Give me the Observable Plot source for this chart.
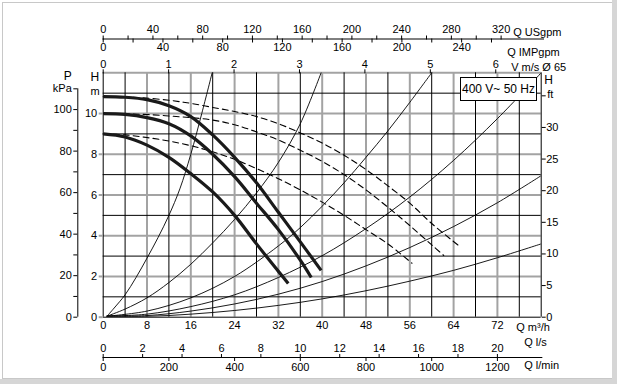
<!DOCTYPE html>
<html><head><meta charset="utf-8">
<script src="https://cdn.jsdelivr.net/npm/d3@7"></script>
<script src="https://cdn.jsdelivr.net/npm/@observablehq/plot@0.6"></script>
<style>
html,body{margin:0;padding:0;background:#fff;}
#wrap{position:relative;width:617px;height:384px;overflow:hidden;font-family:"Liberation Sans",Arial,sans-serif;}
#chart{position:absolute;left:0;top:0;}
#legend{position:absolute;left:460px;top:77px;width:77px;height:24px;box-sizing:border-box;border:1px solid #000;background:#fff;font-size:12px;line-height:22px;text-align:center;color:#000;white-space:nowrap;}
#border{position:absolute;left:2px;top:2px;width:609px;height:375px;border:1px solid #c8c8c8;}
#bandR{position:absolute;left:612px;top:0;width:5px;height:384px;background:#d6d6d6;}
#bandB{position:absolute;left:0;top:379px;width:617px;height:5px;background:#d6d6d6;}
</style></head>
<body><div id="wrap"><div id="border"></div><div id="bandR"></div><div id="bandB"></div><div id="chart"></div><div id="legend">400 V~ 50 Hz</div></div>
<script>
// ---- tick values ----
const qTicks = [0, 8, 16, 24, 32, 40, 48, 56, 64, 72];          // Q m3/h
const hTicks = [0, 2, 4, 6, 8, 10];                              // H m
const pTicks = [0, 10, 20, 30, 40, 50, 60, 70, 80, 90, 100, 110]; // P kPa
const ftTicks = [0, 5, 10, 15, 20, 25, 30, 35];                  // H ft
const usTicks = [0, 20, 40, 60, 80, 100, 120, 140, 160, 180, 200, 220, 240, 260, 280, 300, 320]; // USgpm
const impTicks = [0, 20, 40, 60, 80, 100, 120, 140, 160, 180, 200, 220, 240, 260]; // IMPgpm
const vTicks = [0, 1, 2, 3, 4, 5, 6];                            // V m/s
const lsTicks = [0, 2, 4, 6, 8, 10, 12, 14, 16, 18, 20];         // l/s
const lminTicks = [0, 200, 400, 600, 800, 1000, 1200];           // l/min

// ---- pump curves (thick) ----
const pumpQ1 = [0, 4, 8, 12, 16, 20, 24, 28, 32, 36, 39.8];
const pumpH1 = [10.83, 10.8, 10.68, 10.38, 9.85, 8.95, 7.85, 6.6, 5.15, 3.7, 2.3];
const pumpQ2 = [0, 4, 8, 12, 16, 20, 24, 28, 32, 36, 38];
const pumpH2 = [10.0, 9.96, 9.8, 9.5, 8.9, 8.0, 6.9, 5.6, 4.3, 2.8, 1.95];
const pumpQ3 = [0, 4, 8, 12, 16, 20, 24, 28, 32, 33.8];
const pumpH3 = [9.0, 8.85, 8.45, 7.85, 7.05, 6.15, 5.0, 3.6, 2.25, 1.65];

// ---- dashed curves ----
const dashQ1 = [0, 4, 7, 12, 16, 20, 24, 28, 32, 36, 40, 44, 48, 52, 56, 60, 65];
const dashH1 = [10.83, 10.81, 10.78, 10.65, 10.5, 10.3, 10.1, 9.85, 9.5, 9.05, 8.55, 7.95, 7.25, 6.45, 5.6, 4.6, 3.5];
const dashQ2 = [0, 4, 8, 12, 16, 20, 24, 28, 32, 36, 40, 44, 48, 52, 56, 60, 62.2];
const dashH2 = [10.0, 9.99, 9.95, 9.88, 9.8, 9.68, 9.45, 9.1, 8.7, 8.2, 7.65, 7.0, 6.25, 5.4, 4.5, 3.55, 3.03];
const dashQ3 = [0, 4, 8, 12, 16, 20, 24, 28, 32, 36, 40, 44, 48, 52, 56.4];
const dashH3 = [9.0, 8.95, 8.82, 8.65, 8.42, 8.12, 7.75, 7.3, 6.8, 6.25, 5.65, 5.0, 4.3, 3.6, 2.65];

// ---- thin system curves ----
const sysQ1 = [0.7, 2, 4, 6, 8, 10, 12, 14, 16, 18, 19.9];
const sysH1 = [0.05, 0.45, 1.1, 1.95, 2.9, 3.9, 5.0, 6.3, 8.0, 10.0, 12];
const sysQ2 = [0.7, 4, 8, 12, 16, 20, 24, 28, 32, 36, 39.8];
const sysH2 = [0.05, 0.4, 0.95, 1.7, 2.6, 3.65, 4.8, 6.1, 7.6, 9.5, 12];
const sysQ3 = [0.7, 8, 16, 24, 32, 36, 40, 44, 48, 52, 56, 60];
const sysH3 = [0.05, 0.3, 0.95, 2.0, 3.5, 4.4, 5.45, 6.6, 7.85, 9.15, 10.55, 12];
const sysQ4 = [0.7, 8, 16, 24, 32, 40, 48, 56, 64, 72, 80];
const sysH4 = [0.05, 0.15, 0.52, 1.1, 1.95, 3.02, 4.35, 5.9, 7.7, 9.75, 12];
const sysQ5 = [0.7, 8, 16, 24, 32, 40, 48, 56, 64, 72, 80];
const sysH5 = [0.05, 0.08, 0.3, 0.65, 1.13, 1.75, 2.52, 3.42, 4.45, 5.62, 6.95];
const sysQ6 = [0.7, 8, 16, 24, 32, 40, 48, 56, 64, 72, 80];
const sysH6 = [0.05, 0.04, 0.15, 0.33, 0.58, 0.9, 1.3, 1.77, 2.3, 2.92, 3.6];

// ---- unit conversions (per m3/h, per m) ----
const KPA_PER_M = 9.81, FT_PER_M = 3.22, US_PER_M3H = 4.403, IMP_PER_M3H = 3.666, M3H_PER_MS = 11.95, M3H_PER_LS = 3.6, M3H_PER_LMIN = 0.06;

const toRows = (pairs) => pairs.flatMap(([q, h], id) => q.map((v, j) => ({Q: v, H: h[j], id})));
const pumps = toRows([[pumpQ1, pumpH1], [pumpQ2, pumpH2], [pumpQ3, pumpH3]]);
const dashes = toRows([[dashQ1, dashH1], [dashQ2, dashH2], [dashQ3, dashH3]]);
const systems = toRows([[sysQ1, sysH1], [sysQ2, sysH2], [sysQ3, sysH3], [sysQ4, sysH4], [sysQ5, sysH5], [sysQ6, sysH6]]);

const minorQ = d3.range(4, 80, 8), majorQ = d3.range(8, 80, 8);
const minorH = [1, 3, 5, 7, 9, 11], majorH = [2, 4, 6, 8, 10, 12];
const GRAY = "#a3a3a3";
const txt = (s, o) => Plot.text([s], {text: d => d, fontSize: 11, fill: "#000", ...o});

const chart = Plot.plot({
  width: 617, height: 384,
  marginLeft: 102.7, marginRight: 76.3, marginTop: 72.3, marginBottom: 67.3,
  x: {domain: [0, 80], label: null},
  y: {domain: [0, 12], label: null},
  style: {fontFamily: '"Liberation Sans", Arial, sans-serif', fontSize: "11px", background: "transparent", overflow: "visible", color: "#000"},
  marks: [
    Plot.gridX(majorQ, {stroke: GRAY, strokeOpacity: 1, strokeWidth: 2}),
    Plot.gridY(majorH, {stroke: GRAY, strokeOpacity: 1, strokeWidth: 2}),
    Plot.gridX(minorQ, {stroke: "#000", strokeOpacity: 1, strokeWidth: 1}),
    Plot.gridY(minorH, {stroke: "#000", strokeOpacity: 1, strokeWidth: 1}),
    Plot.ruleX([0, 80], {stroke: "#000", strokeWidth: 1}),
    Plot.ruleY([0], {stroke: "#000", strokeWidth: 1}),
    Plot.line(systems, {x: "Q", y: "H", z: "id", stroke: "#000", strokeWidth: 0.9, curve: "catmull-rom", clip: true}),
    Plot.line(dashes, {x: "Q", y: "H", z: "id", stroke: "#000", strokeWidth: 1.1, strokeDasharray: "6,4", curve: "catmull-rom"}),
    Plot.line(pumps, {x: "Q", y: "H", z: "id", stroke: "#1a1a1a", strokeWidth: 3.2, curve: "catmull-rom", strokeLinecap: "butt"}),
    // bottom Q m3/h
    Plot.axisX(qTicks, {anchor: "bottom", tickSize: 0, tickPadding: 4, label: null}),
    txt("Q m³/h", {frameAnchor: "bottom-right", textAnchor: "start", dx: -25, dy: 13.5}),
    // l/s and l/min
    Plot.ruleY([0], {x1: 0, x2: 80.3, dy: 40.3, stroke: "#000"}),
    Plot.axisX(lsTicks.map(v => v * M3H_PER_LS), {anchor: "top", dy: 284.7, tickSize: 4, tickPadding: 2, label: null, tickFormat: d => String(Math.round(d / M3H_PER_LS))}),
    Plot.axisX(lminTicks.map(v => v * M3H_PER_LMIN), {anchor: "bottom", dy: 40.3, tickSize: 4, tickPadding: 2, label: null, tickFormat: d => String(Math.round(d / M3H_PER_LMIN))}),
    txt("Q l/s", {frameAnchor: "bottom-right", textAnchor: "start", dx: -17, dy: 29}),
    txt("Q l/min", {frameAnchor: "bottom-right", textAnchor: "start", dx: -17, dy: 52}),
    // top V m/s
    Plot.axisX(vTicks.map(v => v * M3H_PER_MS), {anchor: "top", tickSize: 4, tickPadding: 1, label: null, tickFormat: d => String(Math.round(d / M3H_PER_MS))}),
    txt("V m/s Ø 65", {frameAnchor: "top-right", textAnchor: "start", dx: -30, dy: -10}),
    // USgpm / IMPgpm
    Plot.ruleY([12], {x1: 0, x2: 80.6, dy: -33.8, stroke: "#000"}),
    Plot.axisX(usTicks.map(v => v / US_PER_M3H), {anchor: "top", dy: -33.8, tickSize: 4, tickPadding: 2, label: null, tickFormat: d => { const u = Math.round(d * US_PER_M3H); return u % 40 === 0 ? String(u) : ""; }}),
    Plot.axisX(impTicks.map(v => v / IMP_PER_M3H), {anchor: "bottom", dy: -278.2, tickSize: 4, tickPadding: 0, label: null, tickFormat: d => { const u = Math.round(d * IMP_PER_M3H); return u % 40 === 0 ? String(u) : ""; }}),
    txt("Q USgpm", {frameAnchor: "top-right", textAnchor: "start", dx: -28, dy: -45}),
    txt("Q IMPgpm", {frameAnchor: "top-right", textAnchor: "start", dx: -34, dy: -25}),
    // left H m
    Plot.axisY(hTicks, {anchor: "left", tickSize: 4, tickPadding: 2, stroke: GRAY, strokeWidth: 2, label: null}),
    txt("H", {frameAnchor: "top-left", dx: -12.7, dy: 0, fontSize: 12}),
    txt("m", {frameAnchor: "top-left", dx: -12.7, dy: 14}),
    // left P kPa
    Plot.ruleX([0], {y1: 0, y2: 110 / KPA_PER_M, dx: -25.4, stroke: "#000"}),
    Plot.axisY(pTicks.map(p => p / KPA_PER_M), {anchor: "left", dx: -25.4, tickSize: 4, tickPadding: 2, label: null, tickFormat: d => { const p = Math.round(d * KPA_PER_M); return p === 110 ? "kPa" : (p % 20 === 0 ? String(p) : ""); }}),
    txt("P", {frameAnchor: "top-left", dx: -39.4, dy: -1, fontSize: 12}),
    // right H ft
    Plot.axisY(ftTicks.map(f => f / FT_PER_M), {anchor: "right", tickSize: 4, tickPadding: 1, label: null, tickFormat: d => { const f = Math.round(d * FT_PER_M); return f === 35 ? "" : String(f); }}),
    txt("H", {frameAnchor: "top-right", textAnchor: "start", dx: 3, dy: 3, fontSize: 12}),
    txt("ft", {frameAnchor: "top-right", textAnchor: "start", dx: 6, dy: 17})
  ]
});
document.getElementById("chart").appendChild(chart);
</script>
</body></html>
